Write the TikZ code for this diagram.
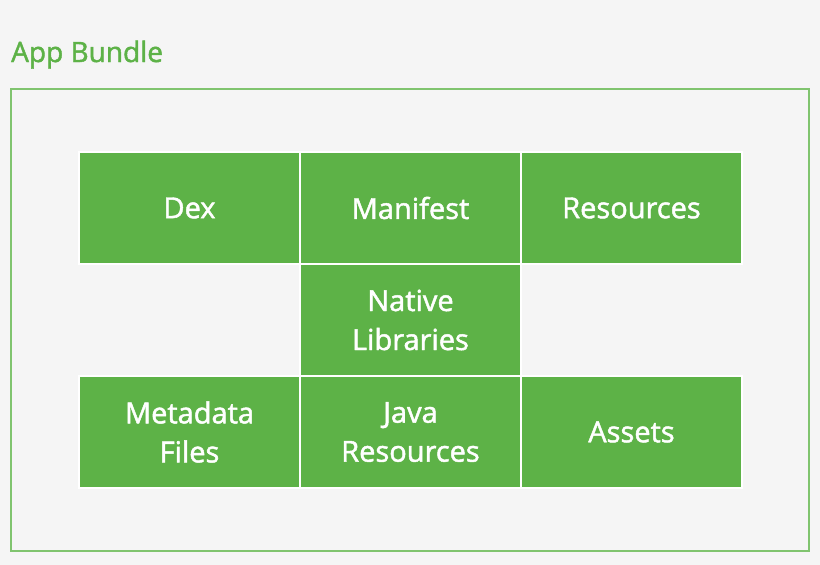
\documentclass[tikz,border=0pt]{standalone}
\usepackage{fontspec}
\setmainfont{Open Sans}
\newfontfamily\partfont{Open Sans}[FakeBold=1.6]
\usepackage{tikz}
\usetikzlibrary{positioning}
\definecolor{bggrey}{HTML}{F5F5F5}
\definecolor{boxgreen}{HTML}{5DB247}
\definecolor{framegreen}{HTML}{80C46F}

\tikzset{
  part/.style={rectangle, fill=boxgreen, draw=white, line width=2pt,
    minimum width=221pt, minimum height=112pt, inner sep=0pt, outer sep=0pt,
    text=white, align=center, font=\partfont\fontsize{29}{39}\selectfont},
}

\begin{document}
\begin{tikzpicture}[x=1pt, y=-1pt]
  \fill[bggrey] (0,0) rectangle (820,565);
  \useasboundingbox (0,0) rectangle (820,565);
  % title and frame
  \node[anchor=base west, inner sep=0pt, text=boxgreen, font=\partfont\fontsize{28}{32}\selectfont] (title) at (11,62) {App Bundle};
  \draw[framegreen, line width=1.5pt] (11,89) rectangle (809,551);
  % top row
  \node[part] (dex) at (189.5,208) {Dex};
  \node[part, right=0pt of dex] (manifest) {Manifest};
  \node[part, right=0pt of manifest] (resources) {Resources};
  % middle
  \node[part, below=0pt of manifest] (native) {Native\\Libraries};
  % bottom row
  \node[part, below=0pt of native] (java) {Java\\Resources};
  \node[part, left=0pt of java] (metadata) {Metadata\\Files};
  \node[part, right=0pt of java] (assets) {Assets};
\end{tikzpicture}
\end{document}
